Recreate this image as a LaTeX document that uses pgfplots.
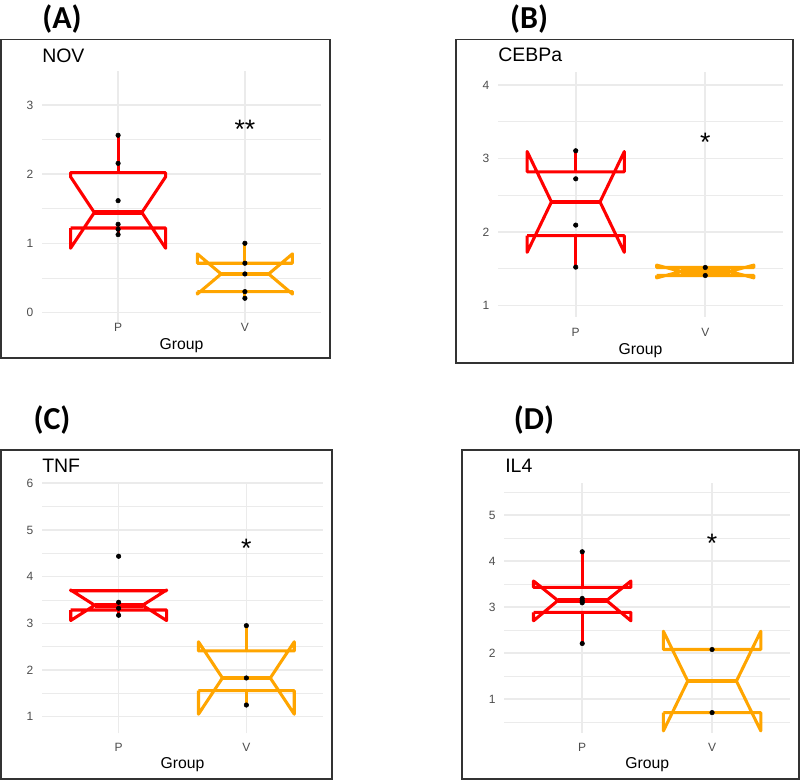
\documentclass[border=0pt]{standalone}
\usepackage{fontspec}
\setmainfont{Liberation Sans}
\newfontfamily\labfont{Carlito}
\usepackage{pgfplots}
\pgfplotsset{compat=1.18}
\definecolor{gridc}{HTML}{EBEBEB}
\definecolor{tickc}{HTML}{4D4D4D}
\definecolor{frm}{HTML}{333333}
\definecolor{bxr}{HTML}{FF0000}
\definecolor{bxo}{HTML}{FFA500}
\pgfplotsset{
 panel/.style={scale only axis, anchor=south west, enlargelimits=false,
  xmin=0.4,xmax=2.6,xtick={1,2},xticklabels={P,V},
  axis line style={draw=none}, major tick length=0pt, minor tick length=0pt,
  tick style={draw=none},
  xmajorgrids, ymajorgrids, yminorgrids,
  major grid style={draw=gridc,line width=1.2pt},
  minor grid style={draw=gridc,line width=0.6pt},
  /pgf/number format/assume math mode=true,
  ticklabel style={font=\fontsize{9}{10}\selectfont, text=tickc},
  yticklabel style={anchor=base east, inner sep=0pt, xshift=-6.4pt, yshift=-3.2pt},
  xticklabel style={anchor=base, inner sep=0pt},
  xlabel={Group},
  xlabel style={font=\fontsize{11.8}{13}\selectfont, at={(axis description cs:0.5,0)}, anchor=base, inner sep=0pt},
  clip=false},
 bxP/.style={bxr, line width=2.3pt, line join=round},
 bxV/.style={bxo, line width=2.3pt, line join=round},
 medP/.style={bxr, line width=3.6pt},
 medV/.style={bxo, line width=3.6pt},
 pts/.style={only marks, mark=*, mark size=1.7pt, mark options={draw=black, fill=black}},
}
\begin{document}
\begin{tikzpicture}[x=0.75pt,y=-0.75pt]
\useasboundingbox (0,0) rectangle (800,780);
% frames
\draw[frm, line width=1pt] (1,39.5) rectangle (330,358);
\draw[frm, line width=1pt] (456,39.5) rectangle (793,363);
\draw[frm, line width=1pt] (1,450) rectangle (332,779);
\draw[frm, line width=1pt] (462,450) rectangle (799,779);
% panel labels
\node[font=\labfont\bfseries\fontsize{24}{26}\selectfont] at (62,19) {(A)};
\node[font=\labfont\bfseries\fontsize{24}{26}\selectfont] at (529,19) {(B)};
\node[font=\labfont\bfseries\fontsize{24}{26}\selectfont] at (52,420) {(C)};
\node[font=\labfont\bfseries\fontsize{24}{26}\selectfont] at (534,420) {(D)};
% titles
\node[anchor=base west, inner sep=0pt, font=\fontsize{14.6}{16}\selectfont] at (42,62.3) {NOV};
\node[anchor=base west, inner sep=0pt, font=\fontsize{14.6}{16}\selectfont] at (498,62) {CEBPa};
\node[anchor=base west, inner sep=0pt, font=\fontsize{14.6}{16}\selectfont] at (42,473) {TNF};
\node[anchor=base west, inner sep=0pt, font=\fontsize{14.6}{16}\selectfont] at (505,473) {IL4};

% ---------- A: NOV ----------
\begin{axis}[panel, at={(31.5pt,-242.25pt)}, width=209.25pt, height=189pt,
  ymin=-0.15, ymax=3.488, ytick={0,1,2,3}, minor ytick={0.5,1.5,2.5},
  xticklabel style={yshift=-6.5pt}, xlabel style={yshift=-19.7pt}]
\addplot[bxP] coordinates {(0.625,1.221) (0.625,0.929) (0.8125,1.445) (0.625,1.961) (0.625,2.020) (1.375,2.020) (1.375,1.961) (1.1875,1.445) (1.375,0.929) (1.375,1.221) (0.625,1.221)};
\addplot[medP] coordinates {(0.8125,1.445) (1.1875,1.445)};
\addplot[bxP] coordinates {(1,2.020) (1,2.56)};
\addplot[bxP] coordinates {(1,1.221) (1,1.126)};
\addplot[bxV] coordinates {(1.625,0.303) (1.625,0.268) (1.8125,0.558) (1.625,0.848) (1.625,0.713) (2.375,0.713) (2.375,0.848) (2.1875,0.558) (2.375,0.268) (2.375,0.303) (1.625,0.303)};
\addplot[medV] coordinates {(1.8125,0.558) (2.1875,0.558)};
\addplot[bxV] coordinates {(2,0.713) (2,1.001)};
\addplot[bxV] coordinates {(2,0.303) (2,0.207)};
\addplot[pts] coordinates {(1,2.56) (1,2.155) (1,1.616) (1,1.275) (1,1.203) (1,1.126)};
\addplot[pts] coordinates {(2,1.001) (2,0.713) (2,0.558) (2,0.303) (2,0.207)};
\node[anchor=base, inner sep=0pt, font=\fontsize{20}{22}\selectfont, yshift=-11.6pt] at (axis cs:2,2.74) {**};
\end{axis}

% ---------- B: CEBPa ----------
\begin{axis}[panel, at={(373.5pt,-237.525pt)}, width=213.75pt, height=183.75pt,
  ymin=0.848, ymax=4.178, ytick={1,2,3,4}, minor ytick={1.5,2.5,3.5},
  xticklabel style={yshift=-14.5pt}, xlabel style={yshift=-28pt}]
\addplot[bxP] coordinates {(0.625,1.950) (0.625,1.723) (0.8125,2.408) (0.625,3.093) (0.625,2.817) (1.375,2.817) (1.375,3.093) (1.1875,2.408) (1.375,1.723) (1.375,1.950) (0.625,1.950)};
\addplot[medP] coordinates {(0.8125,2.408) (1.1875,2.408)};
\addplot[bxP] coordinates {(1,2.817) (1,3.103)};
\addplot[bxP] coordinates {(1,1.950) (1,1.522)};
\addplot[bxV] coordinates {(1.625,1.408) (1.625,1.376) (1.8125,1.4625) (1.625,1.549) (1.625,1.517) (2.375,1.517) (2.375,1.549) (2.1875,1.4625) (2.375,1.376) (2.375,1.408) (1.625,1.408)};
\addplot[medV] coordinates {(1.8125,1.4625) (2.1875,1.4625)};
\addplot[pts] coordinates {(1,3.103) (1,2.722) (1,2.093) (1,1.522)};
\addplot[pts] coordinates {(2,1.517) (2,1.408)};
\node[anchor=base, inner sep=0pt, font=\fontsize{20}{22}\selectfont, yshift=-11.6pt] at (axis cs:2,3.307) {*};
\end{axis}

% ---------- C: TNF ----------
\begin{axis}[panel, at={(31.5pt,-549.975pt)}, width=210.75pt, height=187.5pt,
  ymin=0.644, ymax=6.0, ytick={1,2,3,4,5,6}, minor ytick={1.5,2.5,3.5,4.5,5.5},
  xticklabel style={yshift=-13.8pt}, xlabel style={yshift=-26.25pt}]
\addplot[bxP] coordinates {(0.625,3.285) (0.625,3.061) (0.8125,3.387) (0.625,3.713) (0.625,3.698) (1.375,3.698) (1.375,3.713) (1.1875,3.387) (1.375,3.061) (1.375,3.285) (0.625,3.285)};
\addplot[medP] coordinates {(0.8125,3.387) (1.1875,3.387)};
\addplot[bxP] coordinates {(1,3.285) (1,3.173)};
\addplot[bxV] coordinates {(1.625,1.557) (1.625,1.053) (1.8125,1.829) (1.625,2.605) (1.625,2.408) (2.375,2.408) (2.375,2.605) (2.1875,1.829) (2.375,1.053) (2.375,1.557) (1.625,1.557)};
\addplot[medV] coordinates {(1.8125,1.829) (2.1875,1.829)};
\addplot[bxV] coordinates {(2,2.408) (2,2.95)};
\addplot[bxV] coordinates {(2,1.557) (2,1.25)};
\addplot[pts] coordinates {(1,4.437) (1,3.451) (1,3.323) (1,3.173)};
\addplot[pts] coordinates {(2,2.95) (2,1.829) (2,1.25)};
\node[anchor=base, inner sep=0pt, font=\fontsize{20}{22}\selectfont, yshift=-11.6pt] at (axis cs:2,4.75) {*};
\end{axis}

% ---------- D: IL4 ----------
\begin{axis}[panel, at={(378.225pt,-549.525pt)}, width=214.275pt, height=187.05pt,
  ymin=0.266, ymax=5.69, ytick={1,2,3,4,5}, minor ytick={0.5,1.5,2.5,3.5,4.5,5.5},
  xticklabel style={yshift=-14.25pt}, xlabel style={yshift=-26.7pt}]
\addplot[bxP] coordinates {(0.625,2.884) (0.625,2.700) (0.8125,3.140) (0.625,3.565) (0.625,3.428) (1.375,3.428) (1.375,3.565) (1.1875,3.140) (1.375,2.700) (1.375,2.884) (0.625,2.884)};
\addplot[medP] coordinates {(0.8125,3.140) (1.1875,3.140)};
\addplot[bxP] coordinates {(1,3.428) (1,4.201)};
\addplot[bxP] coordinates {(1,2.884) (1,2.206)};
\addplot[bxV] coordinates {(1.625,0.703) (1.625,0.305) (1.8125,1.389) (1.625,2.473) (1.625,2.075) (2.375,2.075) (2.375,2.473) (2.1875,1.389) (2.375,0.305) (2.375,0.703) (1.625,0.703)};
\addplot[medV] coordinates {(1.8125,1.389) (2.1875,1.389)};
\addplot[pts] coordinates {(1,4.201) (1,3.186) (1,3.134) (1,3.091) (1,2.206)};
\addplot[pts] coordinates {(2,2.075) (2,0.703)};
\node[anchor=base, inner sep=0pt, font=\fontsize{20}{22}\selectfont, yshift=-11.6pt] at (axis cs:2,4.515) {*};
\end{axis}
\end{tikzpicture}
\end{document}
